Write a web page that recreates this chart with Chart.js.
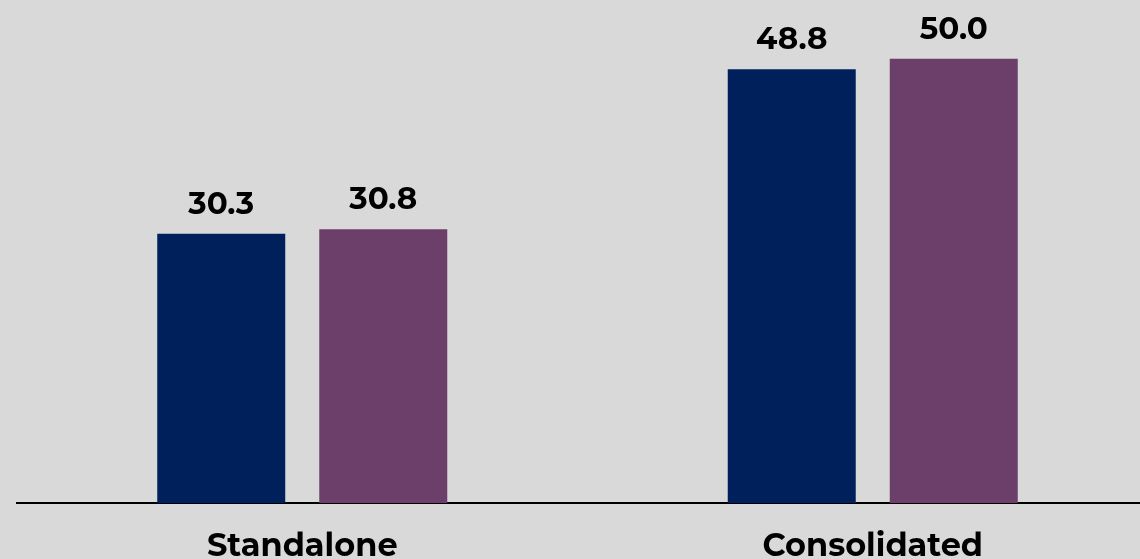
<!DOCTYPE html>
<html>
<head>
<meta charset="utf-8">
<script src="https://cdn.jsdelivr.net/npm/chart.js@4/dist/chart.umd.min.js"></script>
<style>
  html, body { margin: 0; padding: 0; background: #d9d9d9; overflow: hidden; }
  #wrap { width: 1158px; height: 559px; }
</style>
</head>
<body>
<div id="wrap"><canvas id="chart"></canvas></div>
<script>
'use strict';

const categories = ['Standalone', 'Consolidated'];
const seriesA = [30.3, 48.8];
const seriesB = [30.8, 50.0];
const seriesColors = ['#00205b', '#6b3f69'];

const fontFamily = 'Montserrat, "DejaVu Sans", sans-serif';

// draws the value above each bar
const valueLabels = {
  id: 'valueLabels',
  afterDatasetsDraw(chart) {
    const ctx = chart.ctx;
    ctx.save();
    ctx.fillStyle = '#000';
    ctx.font = 'bold 31px ' + fontFamily;
    ctx.textAlign = 'center';
    ctx.textBaseline = 'alphabetic';
    chart.data.datasets.forEach(function (ds, i) {
      chart.getDatasetMeta(i).data.forEach(function (bar, j) {
        ctx.fillText(ds.data[j].toFixed(1), bar.x, bar.y - 20);
      });
    });
    ctx.restore();
  }
};

new Chart(document.getElementById('chart'), {
  type: 'bar',
  data: {
    labels: categories,
    datasets: [
      { data: seriesA, backgroundColor: seriesColors[0] },
      { data: seriesB, backgroundColor: seriesColors[1] }
    ]
  },
  options: {
    responsive: true,
    maintainAspectRatio: false,
    animation: false,
    layout: { padding: { left: 17, right: 0, top: 0, bottom: 0 } },
    categoryPercentage: 0.568,
    barPercentage: 0.79,
    plugins: { legend: { display: false }, tooltip: { enabled: false } },
    scales: {
      x: {
        grid: { display: false, drawTicks: false },
        border: { display: true, color: '#000', width: 2 },
        ticks: {
          color: '#000',
          padding: 24,
          font: { family: fontFamily, size: 32, weight: 'bold' }
        },
        afterFit(scale) { scale.height = 56; }
      },
      y: {
        display: false,
        min: 0,
        max: 56.6
      }
    }
  },
  plugins: [valueLabels]
});
</script>
</body>
</html>
